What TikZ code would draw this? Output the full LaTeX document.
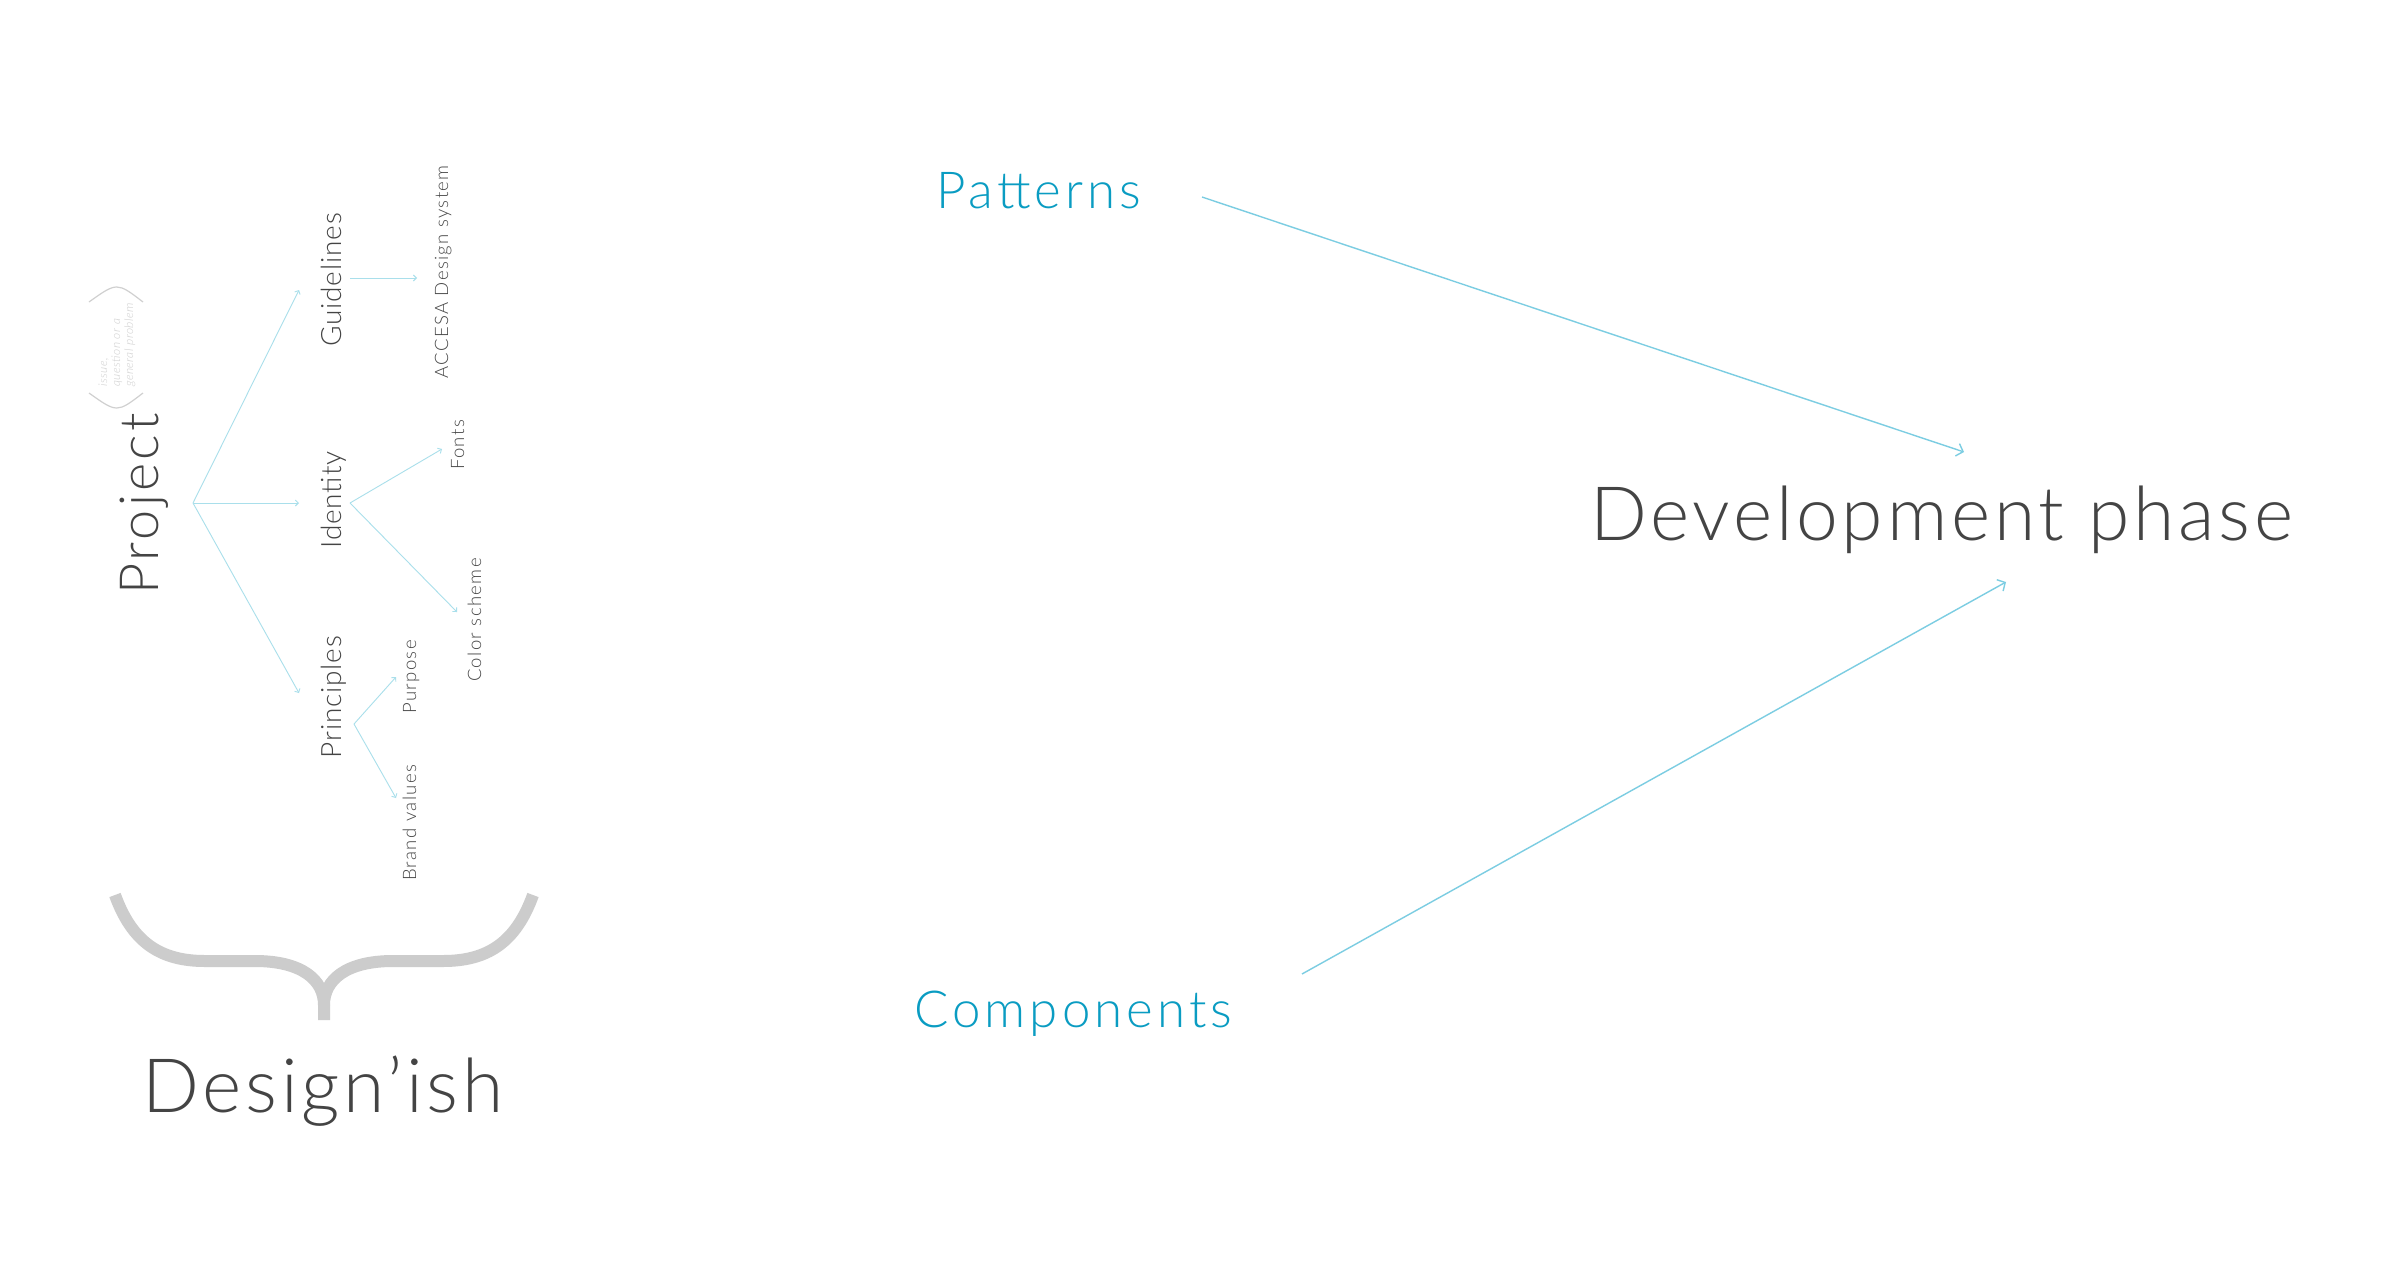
\documentclass[tikz,border=0pt]{standalone}
\usepackage{fontspec}
\setmainfont{Lato Light}
\usetikzlibrary{arrows.meta}
\definecolor{txt}{HTML}{444444}
\definecolor{subtxt}{HTML}{484848}
\definecolor{bluetxt}{HTML}{0A9CC2}
\definecolor{treearrow}{HTML}{A9DFEB}
\definecolor{bigarrow}{HTML}{7CCDE2}
\definecolor{bracecol}{HTML}{CCCCCC}
\definecolor{notecol}{HTML}{D0D0D0}
\begin{document}
\begin{tikzpicture}[x=1pt,y=-1pt,
  every node/.style={inner sep=0pt},
  bigtxt/.style={text=txt,font=\fontsize{75}{80}\selectfont\addfontfeatures{LetterSpace=5}},
  projtxt/.style={text=txt,font=\fontsize{54}{60}\selectfont\addfontfeatures{LetterSpace=6},rotate=90,anchor=base},
  midtxt/.style={text=txt,font=\fontsize{28}{32}\selectfont\addfontfeatures{LetterSpace=3},rotate=90,anchor=base},
  smalltxt/.style={text=subtxt,font=\fontsize{18.5}{22}\selectfont\addfontfeatures{LetterSpace=7.5},rotate=90,anchor=base},
  notetxt/.style={text=notecol,font=\fontsize{12}{14}\selectfont\itshape\addfontfeatures{LetterSpace=4},rotate=90,anchor=base west},
  bluelbl/.style={text=bluetxt,font=\fontsize{51}{56}\selectfont\addfontfeatures{LetterSpace=8},anchor=base west},
  treeline/.style={draw=treearrow,line width=0.9pt,-{Straight Barb[length=3pt,width=6pt]}},
  bigline/.style={draw=bigarrow,line width=1.4pt,-{Straight Barb[length=6pt,width=13pt,line width=1.4pt]}},
  bracestyle/.style={draw=bracecol,line width=12pt},
  parenstyle/.style={draw=notecol,line width=1.2pt}]
\useasboundingbox (0,0) rectangle (2397,1266);
\fill[white] (0,0) rectangle (2397,1266);

% left tree texts
\node[projtxt] (proj) at (158,504) {Project};
\node[notetxt] (n1) at (107,387) {issue,};
\node[notetxt] (n2) at (120,387) {question or a};
\node[notetxt] (n3) at (133,387) {general problem};
\draw[parenstyle] (89,302) .. controls (117,282) .. (143,302);
\draw[parenstyle] (89,393) .. controls (117,413) .. (143,393);

\node[midtxt] (guide) at (341,280) {Guidelines};
\node[midtxt] (ident) at (341,500) {Identity};
\node[midtxt] (princ) at (341,697) {Principles};

\node[smalltxt] (accesa) at (448,272) {ACCESA Design system};
\node[smalltxt] (fonts) at (464,445) {Fonts};
\node[smalltxt] (color) at (481,620) {Color scheme};
\node[smalltxt] (purp) at (416,677) {Purpose};
\node[smalltxt] (brand) at (416,823) {Brand values};

% tree connectors
\coordinate (pj) at (193,503);
\coordinate (gIn) at (299,290);
\coordinate (iIn) at (299,503);
\coordinate (prIn) at (299,693);
\coordinate (gOut) at (350,278);
\coordinate (aIn) at (417,278);
\coordinate (iOut) at (350,503);
\coordinate (fIn) at (442,449);
\coordinate (cIn) at (457,612);
\coordinate (prOut) at (354,724);
\coordinate (puIn) at (396,677);
\coordinate (bIn) at (396,798);
\draw[treeline] (pj) -- (gIn);
\draw[treeline] (pj) -- (iIn);
\draw[treeline] (pj) -- (prIn);
\draw[treeline] (gOut) -- (aIn);
\draw[treeline] (iOut) -- (fIn);
\draw[treeline] (iOut) -- (cIn);
\draw[treeline] (prOut) -- (puIn);
\draw[treeline] (prOut) -- (bIn);

% brace
\draw[bracestyle] (115,895) .. controls (132,942) and (160,961) .. (205,961)
  -- (255,961) .. controls (302,961) and (324,980) .. (324,1005) -- (324,1020);
\draw[bracestyle] (533,895) .. controls (516,942) and (488,961) .. (443,961)
  -- (393,961) .. controls (346,961) and (324,980) .. (324,1005);
\node[bigtxt,anchor=base] (design) at (323,1112) {Design’ish};

% right part
\node[bluelbl] (pat) at (936,208) {Patterns};
\node[bluelbl] (comp) at (914,1027) {Components};
\node[bigtxt,anchor=base west] (dev) at (1590,540) {Development phase};
\coordinate (patOut) at (1202,197);
\coordinate (devTop) at (1964,452);
\coordinate (compOut) at (1302,974);
\coordinate (devBot) at (2006,582);
\draw[bigline] (patOut) -- (devTop);
\draw[bigline] (compOut) -- (devBot);
\end{tikzpicture}
\end{document}
